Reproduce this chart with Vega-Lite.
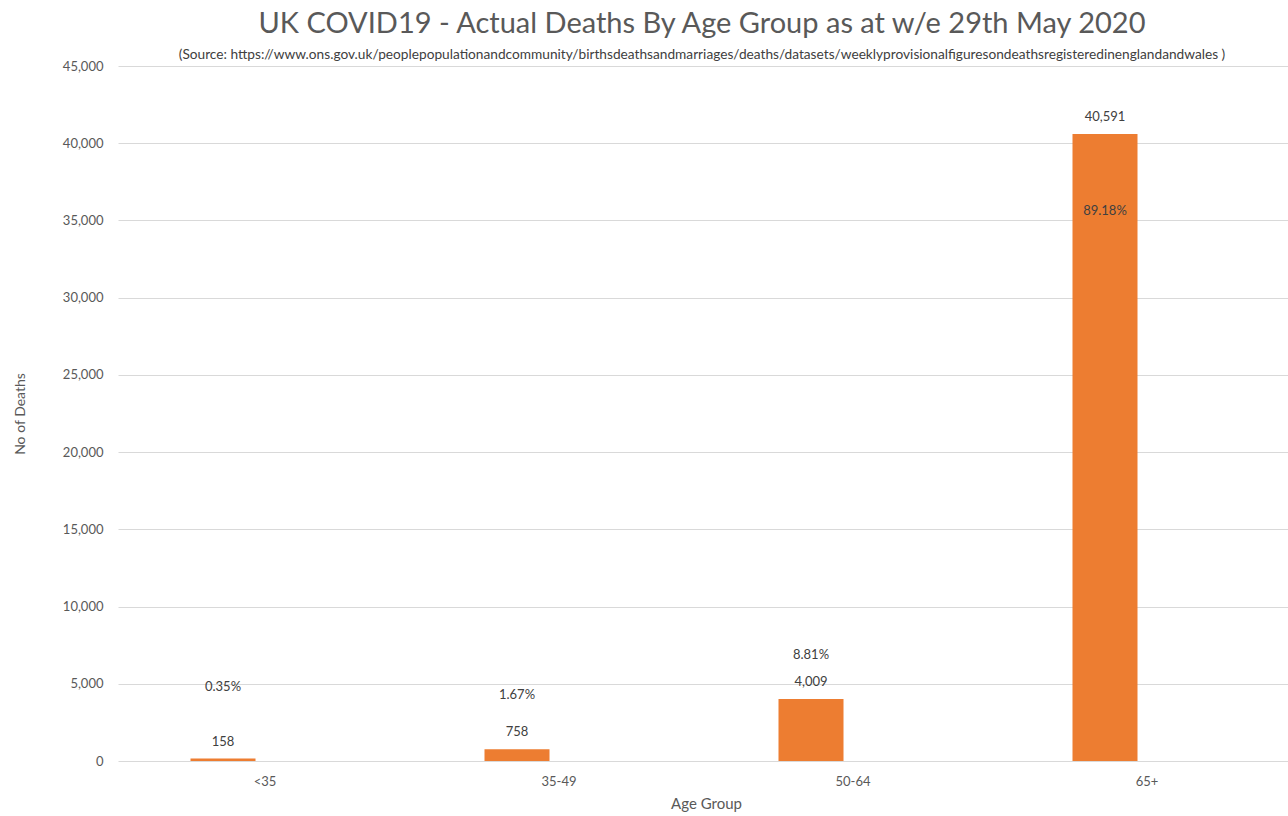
{
  "$schema": "https://vega.github.io/schema/vega-lite/v6.json",
  "autosize": {"type": "none"},
  "padding": {"left": 118, "top": 66, "right": 0, "bottom": 60},
  "width": 1176,
  "height": 695,
  "background": "white",
  "config": {
    "font": "Lato",
    "view": {"stroke": null},
    "axis": {"labelColor": "#595959", "titleColor": "#595959", "labelFont": "Lato", "titleFont": "Lato", "titleFontWeight": "normal"}
  },
  "title": {
    "text": "UK COVID19 - Actual Deaths By Age Group as at w/e 29th May 2020",
    "subtitle": "(Source: https://www.ons.gov.uk/peoplepopulationandcommunity/birthsdeathsandmarriages/deaths/datasets/weeklyprovisionalfiguresondeathsregisteredinenglandandwales )",
    "anchor": "middle",
    "dx": -4,
    "fontSize": 29,
    "fontWeight": "normal",
    "color": "#595959",
    "subtitleFontSize": 13.7,
    "subtitleColor": "#404040",
    "subtitlePadding": 9,
    "offset": -2
  },
  "data": {
    "values": [
      {"age": "<35", "deaths": 158, "pct": "0.35%"},
      {"age": "35-49", "deaths": 758, "pct": "1.67%"},
      {"age": "50-64", "deaths": 4009, "pct": "8.81%"},
      {"age": "65+", "deaths": 40591, "pct": "89.18%"}
    ]
  },
  "encoding": {
    "x": {
      "field": "age", "type": "nominal", "sort": null,
      "scale": {"paddingInner": 0, "paddingOuter": 0},
      "axis": {"title": "Age Group", "labelAngle": 0, "labelFontSize": 13, "titleFontSize": 15, "ticks": false, "domain": false, "labelPadding": 14, "titlePadding": 8}
    },
    "y": {
      "field": "deaths", "type": "quantitative",
      "scale": {"domain": [0, 45000]},
      "axis": {"title": "No of Deaths", "values": [0,5000,10000,15000,20000,25000,30000,35000,40000,45000], "format": ",.0f", "labelOverlap": false, "labelFontSize": 13, "titleFontSize": 14, "ticks": false, "domain": false, "labelPadding": 15, "titlePadding": 35, "gridColor": "#D9D9D9"}
    }
  },
  "layer": [
    {"mark": {"type": "bar", "color": "#ED7D31", "width": 65, "xOffset": -42}},
    {"mark": {"type": "text", "color": "#404040", "fontSize": 13, "xOffset": -42, "dy": -17, "baseline": "middle"}, "encoding": {"text": {"field": "deaths", "type": "quantitative", "format": ","}}},
    {"transform": [{"filter": "datum.age == '<35'"}], "mark": {"type": "text", "color": "#404040", "fontSize": 13, "xOffset": -42, "dy": -72, "baseline": "middle"}, "encoding": {"text": {"field": "pct"}}},
    {"transform": [{"filter": "datum.age == '35-49'"}], "mark": {"type": "text", "color": "#404040", "fontSize": 13, "xOffset": -42, "dy": -54, "baseline": "middle"}, "encoding": {"text": {"field": "pct"}}},
    {"transform": [{"filter": "datum.age == '50-64'"}], "mark": {"type": "text", "color": "#404040", "fontSize": 13, "xOffset": -42, "dy": -44, "baseline": "middle"}, "encoding": {"text": {"field": "pct"}}},
    {"transform": [{"filter": "datum.age == '65+'"}], "mark": {"type": "text", "color": "#404040", "fontSize": 13, "xOffset": -42, "dy": 77, "baseline": "middle"}, "encoding": {"text": {"field": "pct"}}}
  ]
}
